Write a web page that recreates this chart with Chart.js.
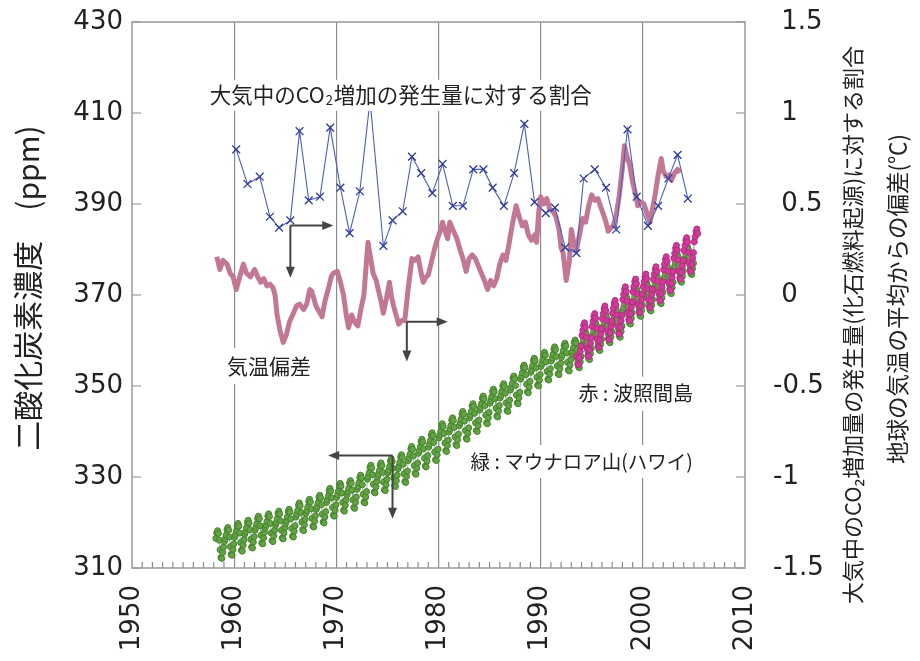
<!DOCTYPE html>
<html>
<head>
<meta charset="utf-8">
<script src="https://cdn.jsdelivr.net/npm/chart.js@4"></script>
<style>
  html, body { margin: 0; background: #fff; }
  #c { display: block; }
</style>
</head>
<body>
<canvas id="c" width="920" height="661"></canvas>
<script>
// axis ticks
const xTicks = [1950, 1960, 1970, 1980, 1990, 2000, 2010];
const ppmTicks = [310, 330, 350, 370, 390, 410, 430];
const rightTicks = [-1.5, -1, -0.5, 0, 0.5, 1, 1.5];

// fraction of fossil-fuel CO2 that stays in the air (right axis)
const fracYears = [1960.2, 1961.3, 1962.5, 1963.5, 1964.4, 1965.5, 1966.4, 1967.3, 1968.4, 1969.4,
  1970.4, 1971.3, 1972.3, 1973.3, 1974.6, 1975.5, 1976.5, 1977.4, 1978.3, 1979.4,
  1980.4, 1981.4, 1982.4, 1983.4, 1984.4, 1985.3, 1986.4, 1987.4, 1988.4, 1989.4,
  1990.5, 1991.4, 1992.4, 1993.5, 1994.2, 1995.3, 1996.4, 1997.4, 1998.5, 1999.4,
  2000.5, 2001.5, 2002.5, 2003.4, 2004.4];
const fracValues = [0.80, 0.61, 0.65, 0.43, 0.37, 0.41, 0.90, 0.52, 0.54, 0.92,
  0.59, 0.34, 0.57, 1.07, 0.27, 0.41, 0.46, 0.76, 0.67, 0.56,
  0.72, 0.49, 0.49, 0.69, 0.69, 0.59, 0.49, 0.67, 0.94, 0.51,
  0.45, 0.48, 0.26, 0.23, 0.64, 0.69, 0.59, 0.36, 0.91, 0.54,
  0.38, 0.49, 0.64, 0.77, 0.53];

// global temperature anomaly (right axis)
const tempYears = [1958.3, 1958.6, 1958.9, 1959.3, 1959.6, 1959.9, 1960.2, 1960.5, 1960.9, 1961.2,
  1961.6, 1962.0, 1962.3, 1962.6, 1962.9, 1963.2, 1963.5, 1963.8, 1964.0, 1964.2,
  1964.5, 1964.8, 1965.1, 1965.4, 1965.8, 1966.1, 1966.4, 1966.8, 1967.1, 1967.4,
  1967.6, 1968.0, 1968.3, 1968.6, 1968.9, 1969.2, 1969.5, 1969.7, 1970.1, 1970.4,
  1970.7, 1971.0, 1971.2, 1971.5, 1971.8, 1972.1, 1972.4, 1972.7, 1972.9, 1973.1,
  1973.3, 1973.6, 1973.9, 1974.1, 1974.4, 1974.6, 1974.9, 1975.2, 1975.4, 1975.6,
  1975.9, 1976.1, 1976.4, 1976.7, 1977.0, 1977.4, 1977.7, 1978.0, 1978.3, 1978.5,
  1978.8, 1979.0, 1979.3, 1979.6, 1979.9, 1980.1, 1980.4, 1980.7, 1980.9, 1981.1,
  1981.4, 1981.8, 1982.1, 1982.4, 1982.7, 1983.0, 1983.3, 1983.6, 1983.9, 1984.2,
  1984.5, 1984.8, 1985.1, 1985.4, 1985.7, 1986.0, 1986.3, 1986.6, 1986.9, 1987.2,
  1987.6, 1987.9, 1988.2, 1988.5, 1988.8, 1989.1, 1989.4, 1989.6, 1989.8, 1990.0,
  1990.3, 1990.6, 1990.9, 1991.2, 1991.5, 1991.8, 1992.0, 1992.2, 1992.5, 1992.8,
  1993.0, 1993.2, 1993.5, 1993.8, 1994.1, 1994.4, 1994.7, 1995.0, 1995.3, 1995.6,
  1995.9, 1996.1, 1996.4, 1996.6, 1996.9, 1997.1, 1997.4, 1997.7, 1998.0, 1998.2,
  1998.5, 1998.7, 1999.0, 1999.3, 1999.5, 1999.8, 2000.1, 2000.4, 2000.7, 2000.9,
  2001.2, 2001.5, 2001.8, 2002.0, 2002.3, 2002.6, 2002.8, 2003.1, 2003.4, 2003.6];
const tempValues = [0.21, 0.14, 0.19, 0.17, 0.12, 0.10, 0.03, 0.09, 0.17, 0.12,
  0.10, 0.14, 0.10, 0.07, 0.09, 0.05, 0.06, 0.04, 0.00, -0.11,
  -0.20, -0.26, -0.22, -0.15, -0.10, -0.06, -0.05, -0.08, -0.05, 0.03,
  0.02, -0.06, -0.09, -0.12, -0.03, 0.03, 0.10, 0.12, 0.13, 0.07,
  0.00, -0.12, -0.18, -0.11, -0.15, -0.17, -0.08, 0.00, 0.15, 0.29,
  0.22, 0.12, 0.08, 0.03, -0.04, -0.10, -0.02, 0.07, -0.01, -0.06,
  -0.12, -0.16, -0.14, -0.14, 0.02, 0.20, 0.19, 0.21, 0.12, 0.07,
  0.10, 0.11, 0.18, 0.25, 0.31, 0.34, 0.40, 0.34, 0.31, 0.40,
  0.36, 0.31, 0.25, 0.20, 0.13, 0.20, 0.22, 0.20, 0.16, 0.12,
  0.08, 0.03, 0.08, 0.05, 0.09, 0.17, 0.22, 0.19, 0.28, 0.38,
  0.49, 0.43, 0.38, 0.40, 0.33, 0.30, 0.33, 0.29, 0.45, 0.54,
  0.50, 0.53, 0.47, 0.46, 0.43, 0.36, 0.26, 0.23, 0.08, 0.18,
  0.36, 0.30, 0.25, 0.33, 0.42, 0.40, 0.49, 0.55, 0.52, 0.53,
  0.48, 0.45, 0.40, 0.35, 0.37, 0.38, 0.44, 0.55, 0.70, 0.82,
  0.75, 0.72, 0.62, 0.55, 0.49, 0.51, 0.50, 0.45, 0.40, 0.46,
  0.55, 0.66, 0.75, 0.68, 0.65, 0.66, 0.63, 0.67, 0.69, 0.67];

// Mauna Loa CO2: yearly level + monthly offset (left axis)
const mlYears = [1958, 1959, 1960, 1961, 1962, 1963, 1964, 1965, 1966, 1967,
  1968, 1969, 1970, 1971, 1972, 1973, 1974, 1975, 1976, 1977,
  1978, 1979, 1980, 1981, 1982, 1983, 1984, 1985, 1986, 1987,
  1988, 1989, 1990, 1991, 1992, 1993, 1994, 1995, 1996, 1997,
  1998, 1999, 2000, 2001, 2002, 2003, 2004];
const mlLevels = [315.3, 316.0, 316.9, 317.6, 318.5, 319.0, 319.6, 320.0, 321.4, 322.2,
  323.1, 324.6, 325.7, 326.3, 327.5, 329.7, 330.2, 331.1, 332.0, 333.8,
  335.4, 336.8, 338.8, 340.1, 341.5, 343.2, 344.9, 346.4, 347.6, 349.3,
  351.7, 353.2, 354.5, 355.7, 356.5, 357.2, 359.0, 361.0, 362.7, 363.9,
  366.8, 368.5, 369.7, 371.3, 373.5, 376.0, 377.7];
const mlMonthly = [-0.2, 0.4, 1.2, 2.4, 2.9, 2.3, 0.8, -1.3, -3.0, -3.2, -1.9, -0.7];

// Hateruma CO2: yearly level + monthly offset (left axis)
const htYears = [1993, 1994, 1995, 1996, 1997, 1998, 1999, 2000, 2001, 2002, 2003, 2004, 2005];
const htLevels = [358.5, 360.3, 362.3, 364.0, 365.2, 368.2, 369.9, 371.0, 372.6, 374.8, 377.3, 379.0, 380.9];
const htMonthly = [0.8, 1.9, 3.0, 3.6, 2.6, 0.4, -2.0, -3.6, -3.8, -2.3, -0.9, 0.3];

function monthlyPoints(years, levels, offsets, firstMonth, lastMonth) {
  const pts = [];
  years.forEach((yr, i) => {
    offsets.forEach((off, m) => {
      if (i === 0 && m < firstMonth) return;
      if (i === years.length - 1 && m > lastMonth) return;
      pts.push({ x: yr + (m + 0.5) / 12, y: levels[i] + off });
    });
  });
  return pts;
}

const JP = '"Noto Sans CJK JP", "Noto Sans", sans-serif';
const NUM = '"DejaVu Sans", "Liberation Sans", sans-serif';
const INK = '#222';

function arrow(ctx, x1, y1, x2, y2) {
  const a = Math.atan2(y2 - y1, x2 - x1);
  ctx.beginPath();
  ctx.moveTo(x1, y1);
  ctx.lineTo(x2 - 8 * Math.cos(a), y2 - 8 * Math.sin(a));
  ctx.stroke();
  ctx.beginPath();
  ctx.moveTo(x2, y2);
  ctx.lineTo(x2 - 11 * Math.cos(a) + 4.5 * Math.sin(a), y2 - 11 * Math.sin(a) - 4.5 * Math.cos(a));
  ctx.lineTo(x2 - 11 * Math.cos(a) - 4.5 * Math.sin(a), y2 - 11 * Math.sin(a) + 4.5 * Math.cos(a));
  ctx.closePath();
  ctx.fill();
}

function boxText(ctx, text, x, y, size, align, pad) {
  ctx.font = size + 'px ' + JP;
  const w = ctx.measureText(text).width;
  const left = align === 'right' ? x - w : x;
  ctx.fillStyle = '#fff';
  ctx.fillRect(left - pad, y - size * 0.85, w + pad * 2, size * 1.7);
  ctx.fillStyle = INK;
  ctx.textAlign = 'left';
  ctx.textBaseline = 'middle';
  ctx.fillText(text, left, y);
}

// keep the plot box where the reference has it
const noPad = s => { s.paddingTop = 0; s.paddingBottom = 0; s.paddingLeft = 0; s.paddingRight = 0; };

const decor = {
  id: 'decor',
  beforeDraw(chart) {
    const ctx = chart.ctx;
    ctx.save();
    ctx.fillStyle = '#fff';
    ctx.fillRect(0, 0, chart.width, chart.height);
    ctx.restore();
  },
  beforeDatasetsDraw(chart) {
    const { ctx, scales } = chart;
    ctx.save();
    boxText(ctx, '気温偏差', scales.x.getPixelForValue(1959.3), scales.y.getPixelForValue(354.4), 21, 'left', 5);
    boxText(ctx, '赤 : 波照間島', scales.x.getPixelForValue(2004.9), scales.y.getPixelForValue(348.3), 20, 'right', 6);
    boxText(ctx, '緑 : マウナロア山(ハワイ)', scales.x.getPixelForValue(2004.9), scales.y.getPixelForValue(333.4), 19.5, 'right', 6);
    ctx.restore();
  },
  afterDatasetsDraw(chart) {
    const { ctx, chartArea: a, scales } = chart;
    const X = v => scales.x.getPixelForValue(v);
    const Y = v => scales.y.getPixelForValue(v);
    ctx.save();

    // title box over the upper series
    const tx = X(1957.6), ty = Y(414.0);
    ctx.font = '21.5px ' + JP;
    const p1 = '大気中のCO', p2 = '増加の発生量に対する割合';
    const w1 = ctx.measureText(p1).width, w3 = ctx.measureText(p2).width;
    ctx.font = '13px ' + JP;
    const w2 = ctx.measureText('2').width;
    ctx.fillStyle = '#fff';
    ctx.fillRect(tx - 5, ty - 15, w1 + w2 + w3 + 12, 31);
    ctx.fillStyle = INK;
    ctx.textBaseline = 'middle';
    ctx.textAlign = 'left';
    ctx.font = '21.5px ' + JP;
    ctx.fillText(p1, tx, ty);
    ctx.font = '13px ' + JP;
    ctx.fillText('2', tx + w1 + 1, ty + 5);
    ctx.font = '21.5px ' + JP;
    ctx.fillText(p2, tx + w1 + w2 + 2, ty);

    // arrows
    ctx.strokeStyle = '#444';
    ctx.fillStyle = '#444';
    ctx.lineWidth = 2;
    arrow(ctx, X(1965.5), Y(385.3), X(1969.7), Y(385.3));
    arrow(ctx, X(1965.5), Y(385.3), X(1965.5), Y(373.8));
    arrow(ctx, X(1976.9), Y(364.1), X(1980.9), Y(364.1));
    arrow(ctx, X(1976.9), Y(364.1), X(1976.9), Y(355.4));
    arrow(ctx, X(1975.5), Y(334.7), X(1969.2), Y(334.7));
    arrow(ctx, X(1975.5), Y(334.7), X(1975.5), Y(320.8));

    // inner tick marks
    ctx.strokeStyle = '#8a8a8a';
    ctx.lineWidth = 1.2;
    ctx.beginPath();
    ppmTicks.forEach(v => {
      const y = Y(v);
      ctx.moveTo(a.left, y); ctx.lineTo(a.left + 9, y);
    });
    rightTicks.forEach(v => {
      const y = scales.yR.getPixelForValue(v);
      ctx.moveTo(a.right, y); ctx.lineTo(a.right - 9, y);
    });
    for (let yr = xTicks[0] + 1; yr < xTicks[xTicks.length - 1]; yr++) {
      if (yr % 10 === 0) continue;
      const x = X(yr);
      ctx.moveTo(x, a.bottom); ctx.lineTo(x, a.bottom - 6);
    }
    ctx.stroke();

    // plot frame
    ctx.strokeStyle = '#999';
    ctx.lineWidth = 1.5;
    ctx.strokeRect(a.left, a.top, a.right - a.left, a.bottom - a.top);
    ctx.restore();
  },
  afterDraw(chart) {
    const { ctx } = chart;
    const vtext = (text, x, y, size) => {
      ctx.save();
      ctx.translate(x, y);
      ctx.rotate(-Math.PI / 2);
      ctx.font = size + 'px ' + JP;
      ctx.fillStyle = INK;
      ctx.textAlign = 'center';
      ctx.textBaseline = 'middle';
      ctx.fillText(text, 0, 0);
      ctx.restore();
    };
    vtext('二酸化炭素濃度　(ppm)', 28, 288, 30);
    vtext('大気中のCO₂増加量の発生量(化石燃料起源)に対する割合', 853, 325, 22);
    vtext('地球の気温の平均からの偏差(℃)', 897, 299, 22.5);
  }
};

new Chart(document.getElementById('c'), {
  type: 'line',
  data: {
    datasets: [
      {
        label: 'fraction',
        data: fracYears.map((x, i) => ({ x, y: fracValues[i] })),
        yAxisID: 'yR',
        borderColor: '#4c5ec4',
        borderWidth: 1.1,
        pointStyle: 'crossRot',
        pointRadius: 5.5,
        pointBorderColor: '#2f3d96',
        pointBorderWidth: 1.3,
        tension: 0
      },
      {
        label: 'temperature',
        data: tempYears.map((x, i) => ({ x, y: tempValues[i] })),
        yAxisID: 'yR',
        borderColor: '#c27895',
        borderWidth: 5,
        pointRadius: 0,
        borderJoinStyle: 'round',
        tension: 0
      },
      {
        label: 'hateruma',
        data: monthlyPoints(htYears, htLevels, htMonthly, 6, 4),
        yAxisID: 'y',
        borderColor: '#d85aa8',
        borderWidth: 1,
        pointRadius: 3,
        pointBackgroundColor: '#cf3c97',
        pointBorderColor: '#b22c82',
        pointBorderWidth: 1,
        tension: 0
      },
      {
        label: 'maunaloa',
        data: monthlyPoints(mlYears, mlLevels, mlMonthly, 2, 11),
        yAxisID: 'y',
        borderColor: '#7f9ea6',
        borderWidth: 0.8,
        pointRadius: 3,
        pointBackgroundColor: '#62a443',
        pointBorderColor: '#46822d',
        pointBorderWidth: 1,
        tension: 0
      }
    ]
  },
  options: {
    responsive: false,
    animation: false,
    devicePixelRatio: 1,
    layout: { padding: { top: 22, left: 0, right: 0, bottom: 0 } },
    plugins: { legend: { display: false }, tooltip: { enabled: false } },
    scales: {
      x: {
        type: 'linear',
        min: xTicks[0], max: xTicks[xTicks.length - 1],
        afterFit: s => { s.height = 93; noPad(s); },
        afterBuildTicks: s => { s.ticks = xTicks.map(v => ({ value: v })); },
        ticks: {
          autoSkip: false, minRotation: 90, maxRotation: 90, padding: 17,
          color: INK, font: { family: NUM, size: 26 },
          callback: v => String(v)
        },
        grid: {
          drawTicks: false, lineWidth: 1.2,
          color: c => (c.tick && (c.tick.value === xTicks[0] || c.tick.value === xTicks[xTicks.length - 1])) ? 'rgba(0,0,0,0)' : '#8c8c8c'
        },
        border: { display: false }
      },
      y: {
        position: 'left',
        min: ppmTicks[0], max: ppmTicks[ppmTicks.length - 1],
        afterFit: s => { s.width = 132; noPad(s); },
        afterBuildTicks: s => { s.ticks = ppmTicks.map(v => ({ value: v })); },
        ticks: { padding: 9, color: INK, font: { family: NUM, size: 26 }, callback: v => String(v) },
        grid: { display: false, drawTicks: false },
        border: { display: false }
      },
      yR: {
        position: 'right',
        min: rightTicks[0], max: rightTicks[rightTicks.length - 1],
        afterFit: s => { s.width = 175; noPad(s); },
        afterBuildTicks: s => { s.ticks = rightTicks.map(v => ({ value: v })); },
        ticks: { padding: 28, color: INK, font: { family: NUM, size: 26 }, callback: v => (v < 0 ? '' : ' ') + String(v) },
        grid: { display: false, drawTicks: false },
        border: { display: false }
      }
    }
  },
  plugins: [decor]
});
</script>
</body>
</html>
